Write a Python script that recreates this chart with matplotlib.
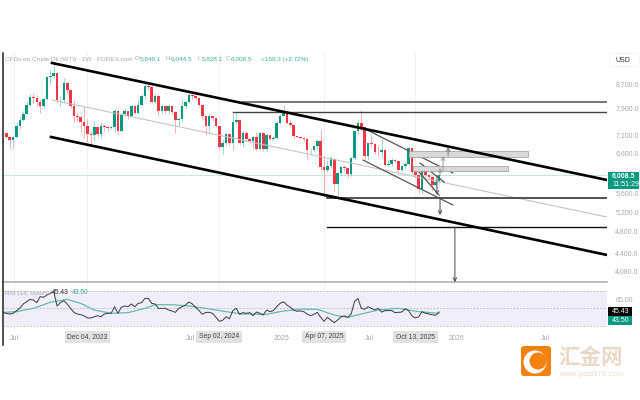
import matplotlib
matplotlib.use('Agg')
import matplotlib.pyplot as plt
from matplotlib.patches import Rectangle, FancyBboxPatch, Circle
from matplotlib.lines import Line2D

# weekly closes, highs, lows (open = previous close)
closes = [7130, 7020, 6930, 7010, 7350, 7520, 7700, 8000, 8270, 8220,
          8100, 7950, 8180, 8950, 8980, 9080, 8150, 8150, 8750, 8480,
          7960, 7650, 7600, 7450, 7350, 7100, 7080, 7320, 7100, 7350,
          7300, 7280, 7300, 7800, 7200, 7720, 7800, 7650, 7950, 7750,
          8000, 8280, 8620, 8600, 8100, 8280, 7800, 7950, 7800, 7950,
          7780, 7530, 7550, 7950, 8100, 8330, 8290, 8230, 8000, 7630,
          7350, 7650, 7570, 7350, 6750, 6850, 7100, 6850, 7450, 7520,
          6850, 7130, 6950, 6900, 7030, 6680, 7120, 6680, 7080, 6950,
          7000, 7430, 7650, 7760, 7420, 7380, 7050, 7020, 7000, 6960,
          6650, 6650, 6780, 6900, 6220, 6130, 6250, 6420, 5800, 6060,
          6210, 6200, 6040, 6440, 7200, 7420, 7320, 6490, 6840, 6830,
          6610, 6600, 6660, 6280, 6300, 6400, 6380, 6130, 6240, 6300,
          6720, 6100, 6020, 5680, 6150, 6030, 5970, 5780, 5849.1, 6008.5]
highs = [7200, 7150, 7020, 7050, 7450, 7650, 7800, 8080, 8350, 8400,
         8330, 8200, 8250, 9000, 9250, 9470, 9000, 8300, 8900, 8780,
         8480, 8150, 7750, 7650, 7950, 7550, 7200, 7500, 7350, 7450,
         7400, 7350, 7350, 7850, 7850, 7750, 7880, 7800, 8000, 7950,
         8200, 8350, 8800, 8700, 8550, 8350, 8350, 8000, 7950, 8000,
         7950, 7800, 7600, 8200, 8150, 8400, 8450, 8300, 8230, 8000,
         7650, 7700, 7650, 7570, 7350, 6950, 7150, 7100, 7700, 7730,
         7520, 7180, 7180, 6980, 7080, 7150, 7150, 7150, 7120, 7080,
         7050, 7480, 7700, 8000, 7800, 7550, 7380, 7080, 7040, 7020,
         7000, 6720, 6800, 6950, 7250, 6500, 6400, 6500, 6400, 6100,
         6250, 6280, 6200, 6480, 7230, 7550, 7830, 7320, 6880, 7100,
         6850, 6800, 6980, 6700, 6400, 6450, 6420, 6400, 6280, 6350,
         6750, 6720, 6150, 6050, 6200, 6180, 6050, 5980, 5900, 6044.5]
lows = [6800, 6980, 6700, 6720, 7000, 7250, 7500, 7700, 7950, 8050,
        7950, 7730, 7850, 8150, 8700, 8900, 8100, 7950, 8100, 8400,
        7880, 7450, 7500, 7150, 6980, 6880, 6740, 6900, 7050, 7000,
        7200, 7200, 7250, 7150, 7100, 7200, 7650, 7550, 7600, 7700,
        7700, 7950, 8200, 8500, 8050, 8050, 7650, 7750, 7700, 7750,
        7700, 7120, 7350, 7500, 7900, 8050, 8200, 8150, 7950, 7550,
        7080, 7100, 7500, 7300, 6700, 6550, 6800, 6800, 6650, 7400,
        6800, 6730, 6900, 6850, 6700, 6620, 6650, 6620, 6620, 6900,
        6900, 6950, 7400, 7650, 7400, 7300, 7000, 6980, 6950, 6900,
        6400, 6550, 6600, 6700, 6150, 5500, 6100, 6200, 5650, 5500,
        6000, 6120, 5950, 6000, 6400, 7100, 7200, 6420, 6400, 6750,
        6550, 6500, 6450, 6230, 6230, 6250, 6320, 6050, 6100, 6200,
        6250, 6050, 5950, 5590, 5580, 5980, 5920, 5650, 5700, 5828.1]

rsi = [44.7, 43.9, 43.1, 43.9, 47, 50, 54.6, 57.2, 59.9, 59.1,
       56.1, 63, 62.2, 64.9, 66.8, 68.7, 52.3, 56.1, 58.4, 54.6,
       49.6, 45, 43.1, 42.4, 40.9, 38.6, 38.6, 40, 41.2, 40,
       43.1, 43.9, 43.9, 51.5, 43.9, 50.8, 52.3, 51.5, 54.6, 51.5,
       55.3, 56.1, 61, 61, 55.3, 54.6, 49.6, 49.6, 49.6, 47.7,
       46.6, 45, 49.6, 51.5, 53.4, 56.9, 54.6, 50.8, 47, 42.8,
       45, 45, 43.9, 39.3, 34.8, 36, 40, 37.8, 47, 49.6,
       42.8, 44.7, 43.9, 44.7, 41.2, 45.4, 43.9, 42, 47.7, 45.8,
       47, 51.5, 55.3, 57.2, 53.4, 50.8, 47.7, 46.2, 46.6, 45.8,
       43.1, 41.2, 42.8, 45, 39.3, 34.8, 39.3, 36.3, 33.2, 36.3,
       40, 40.9, 39.3, 43.1, 57.2, 61, 49.6, 48.5, 51.5, 49.6,
       47.7, 49.6, 45.4, 47, 47, 47, 44.7, 45, 45.4, 49.2,
       47, 40.9, 38.6, 40, 45.8, 43.9, 43.1, 42.4, 41.6, 45.43]
rsi_ma_weeks = [0, 4, 9, 14, 19, 23, 27, 32, 37, 42, 45, 50, 55, 60, 66, 71, 78, 83,
                88, 93, 98, 102, 106, 111, 117, 123, 129]
rsi_ma = [45, 45.8, 49.6, 56.5, 59.9, 55.3, 47.7, 43.9, 44.7, 49.6, 53.8, 53.8, 52.3,
          49.6, 45.8, 43.1, 42.8, 46.6, 48.5, 48.5, 42, 39.3, 43.1, 47.7, 49.6, 45.8, 43.9]

price_ticks = [8700, 7900, 7100, 6600, 5600, 5200, 4800, 4400, 4080]
plain_ticks = [('Jul', 3.25), ('Jul', 55.3), ('2025', 82.5), ('Jul', 108.3), ('2026', 134.3), ('Jul', 160.6)]
date_tags = [('Dec 04, 2023', 25), ('Sep 02, 2024', 64), ('Apr 07, 2025', 95), ('Oct 13, 2025', 122)]

# drawings on the chart: (week, price) -> (week, price)
channel_lines = [((14.5, 9472), (178.7, 5898)), ((14.2, 7020), (178.7, 4354))]
mid_line = ((14.5, 8154), (178.7, 5077))
level_lines = [(71, 8088, '#777777', 1.4), (68, 7768, '#444444', 1.0), (96, 5483, '#333333', 1.2), (96, 4876, '#111111', 1.0)]
falling_lines = [((106.5, 7282), (133.1, 6068)), ((106.5, 6395), (133.1, 5330)),
                 ((123.4, 6317), (130.5, 5851)), ((123.1, 6091), (129, 5551))]
boxes = [(120.1, 155.4, 6473, 6633), (121.3, 149.4, 6116, 6242)]
arrows = [((133.7, 4876), (133.7, 3900), '#444444'), ((129.3, 5483), (129.3, 5118), '#444444'),
          ((128.4, 6008), (128.4, 5551), '#555555'), ((129.3, 6008), (129.3, 6190), '#999999'),
          ((130.2, 6116), (130.2, 6500), '#999999'), ((131.7, 6500), (131.7, 6742), '#777777')]

UP = '#089981'
DOWN = '#f23645'
GREY = '#a8a8a8'
X_MAX = 178.7

plt.rcParams['font.family'] = ['Liberation Sans', 'DejaVu Sans']
fig = plt.figure(figsize=(6.4, 4), dpi=100)


def px_axes(l, t, r, b):
    return fig.add_axes([l / 640, 1 - b / 400, (r - l) / 640, (b - t) / 400])


def fig_text(x, y, s, **kw):
    fig.text(x / 640, 1 - y / 400, s, va='center', **kw)


ax = px_axes(3, 53, 607, 283)
ax2 = px_axes(3, 284, 607, 330)
for a in (ax, ax2):
    a.set_xlim(0, X_MAX)
    for s in a.spines.values():
        s.set_visible(False)
    for wk in [3.25, 25, 64, 95, 122]:
        a.axvline(wk, color='#f1f1f1', lw=0.8, zorder=0)

# price pane
ax.set_yscale('log')
ax.set_ylim(3887, 9863)
ax.axhline(closes[-1], color='#c4e8e0', lw=0.7, zorder=1)
opens = [closes[0]] + closes[:-1]
for i, (o, h, l, c) in enumerate(zip(opens, highs, lows, closes)):
    col = UP if c >= o else DOWN
    ax.vlines(i, l, h, color=col, lw=0.5, alpha=0.55, zorder=2)
    ax.add_patch(Rectangle((i - 0.38, min(o, c)), 0.76, max(abs(c - o), 12), color=col, lw=0, zorder=3))

for (x0, y0), (x1, y1) in channel_lines:
    ax.plot([x0, x1], [y0, y1], color='black', lw=1.9, zorder=5)
ax.plot([mid_line[0][0], mid_line[1][0]], [mid_line[0][1], mid_line[1][1]], color='#c4c4c4', lw=0.8, zorder=4)
for x0, y, col, w in level_lines:
    ax.plot([x0, X_MAX], [y, y], color=col, lw=w, zorder=4)
for (x0, y0), (x1, y1) in falling_lines:
    ax.plot([x0, x1], [y0, y1], color='#555555', lw=0.9, zorder=4)
for x0, x1, y0, y1 in boxes:
    ax.add_patch(Rectangle((x0, y0), x1 - x0, y1 - y0, fc='#d9d9d9', ec='#a8a8a8', lw=0.6, zorder=4))
for p0, p1, col in arrows:
    ax.annotate('', xy=p1, xytext=p0, zorder=6,
                arrowprops=dict(arrowstyle='->', color=col, lw=0.7, mutation_scale=6, shrinkA=0, shrinkB=0))

ax.yaxis.tick_right()
ax.minorticks_off()
ax.set_yticks(price_ticks)
ax.set_yticklabels([f'{v:,.1f}' for v in price_ticks])
ax.tick_params(axis='y', length=0, labelsize=5, labelcolor=GREY, pad=6)
ax.set_xticks([])
ax.plot([0, X_MAX], [3900, 3900], color='#aaaaaa', lw=1.1, clip_on=False, zorder=4)

# RSI pane
ax2.set_ylim(50 - 22 / 0.875, 50 + 24 / 0.875)
ax2.add_patch(Rectangle((0, 30), X_MAX, 40, fc='#f1edf9', lw=0, zorder=0))
for lvl in (70, 50, 30):
    ax2.axhline(lvl, color='#b8b8c0', lw=0.6, ls=(0, (2, 2)), zorder=1)
ax2.plot(rsi_ma_weeks, rsi_ma, color='#5fbfae', lw=0.9, zorder=2)
ax2.plot(range(len(rsi)), rsi, color='#3a3a3a', lw=0.7, zorder=3)
ax2.yaxis.tick_right()
ax2.set_yticks([60])
ax2.set_yticklabels(['60.00'])
ax2.tick_params(axis='y', length=0, labelsize=5, labelcolor=GREY, pad=6)
ax2.set_xticks([wk for _, wk in plain_ticks])
ax2.set_xticklabels([s for s, _ in plain_ticks])
ax2.tick_params(axis='x', length=0, labelsize=5, labelcolor=GREY, pad=3.5)

for s, wk in date_tags:
    ax2.annotate(s, xy=(wk, 0), xycoords=('data', 'axes fraction'), xytext=(0, -5), textcoords='offset points',
                 ha='center', va='center', fontsize=4.9, color='#444444', annotation_clip=False,
                 bbox=dict(boxstyle='square,pad=0.42', fc='#e2e2e2', ec='none'))

# left border
fig.add_artist(Line2D([2.5 / 640, 2.5 / 640], [1 - 53 / 400, 1 - 345 / 400], color='#222222', lw=1.1))

# header
fig_text(5, 59, 'CFDs on Crude Oil (WTI) · 1W · FOREX.com', fontsize=4.6, color=GREY)
for x, label, val in [(135, 'O', '5,849.1'), (166, 'H', '6,044.5'), (197, 'L', '5,828.1'), (226, 'C', '6,008.5')]:
    fig_text(x, 59, label, fontsize=4.6, color=GREY)
    fig_text(x + 4.5, 59, val, fontsize=4.6, color='#3fb09c')
fig_text(261, 59, '+159.3 (+2.72%)', fontsize=4.6, color='#3fb09c')

# right side labels
fig.patches.append(Rectangle((609 / 640, 1 - 66 / 400), 30 / 640, 13 / 400, transform=fig.transFigure,
                             fc='white', ec='#f0f0f0', lw=0.5))
fig_text(615, 60, 'USD', fontsize=5, color='#333333')
fig.patches.append(Rectangle((608 / 640, 1 - 189 / 400), 31 / 640, 17 / 400, transform=fig.transFigure, fc=UP, lw=0))
fig_text(612, 176.5, '6,008.5', fontsize=5, color='white', fontweight='bold')
fig_text(612, 184.5, '11:51:29', fontsize=5, color='white')
fig.patches.append(Rectangle((608 / 640, 1 - 316 / 400), 24 / 640, 9 / 400, transform=fig.transFigure, fc='black', lw=0))
fig_text(612, 311.5, '45.43', fontsize=5, color='white')
fig.patches.append(Rectangle((608 / 640, 1 - 325 / 400), 24 / 640, 9 / 400, transform=fig.transFigure, fc=UP, lw=0))
fig_text(612, 320.5, '43.50', fontsize=5, color='white')

# RSI legend
fig_text(5, 293, 'RSI (14, close)', fontsize=4.6, color='#aaa6b4')
fig_text(52, 293, '45.43', fontsize=4.8, color='#333333')
fig_text(72, 293, '43.50', fontsize=4.8, color='#3fb09c')

# watermark
logo = px_axes(520, 345, 552, 377)
logo.set_xlim(0, 32)
logo.set_ylim(0, 32)
logo.axis('off')
logo.add_patch(FancyBboxPatch((1, 1), 30, 30, boxstyle='round,pad=0,rounding_size=3', fc='#f5820f', lw=0))
logo.add_patch(Circle((15, 15), 11.5, fc='white', lw=0))
logo.add_patch(Circle((18, 16), 8.5, fc='#f5820f', lw=0))
fig.text(558 / 640, 1 - 358 / 400, '汇金网', fontsize=15.5, color='#ead9c8', va='center', fontweight='bold',
         family=['Noto Sans CJK SC', 'DejaVu Sans'])
fig_text(559, 374, 'www.gold678.com', fontsize=5.7, color='#ecdccd')

fig.savefig('out.png', dpi=100)
